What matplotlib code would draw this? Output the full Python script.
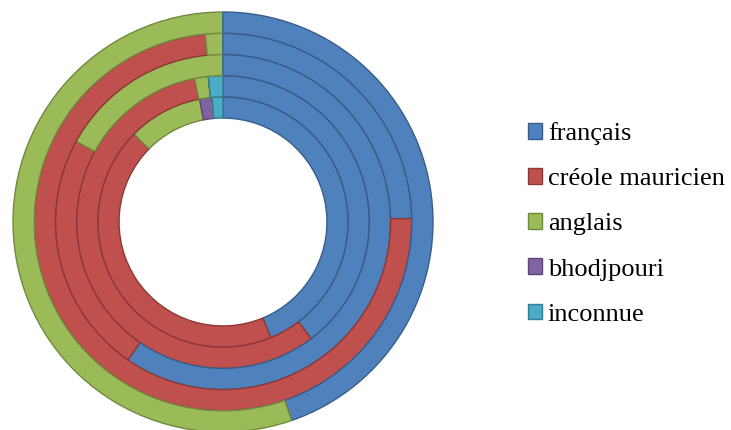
import matplotlib
matplotlib.use("Agg")
import matplotlib.pyplot as plt

# languages (legend order)
languages = ['français', 'créole mauricien', 'anglais', 'bhodjpouri', 'inconnue']

# share (%) of each language, one list per ring, innermost ring first
ring1 = [43.8, 43.7, 9.6, 1.6, 1.4]
ring2 = [39.7, 57.2, 1.5, 0.0, 1.6]
ring3 = [59.6, 23.4, 17.0, 0.0, 0.0]
ring4 = [24.7, 73.8, 1.5, 0.0, 0.0]
ring5 = [44.7, 0.0, 55.3, 0.0, 0.0]
rings = [ring1, ring2, ring3, ring4, ring5]

colors = ['#4F81BD', '#C0504D', '#9BBB59', '#8064A2', '#4BACC6']
edges = ['#385D8A', '#8C3836', '#71893F', '#5C4776', '#357D91']

fig = plt.figure(figsize=(7.31, 4.30), dpi=100)
# pie centre at (223, 222) px, outer radius 210 px
ax = fig.add_axes([13 / 731, -2 / 430, 420 / 731, 420 / 430])
ax.set_xlim(-1, 1)
ax.set_ylim(-1, 1)
ax.set_aspect('equal')
ax.axis('off')

hole = 0.495
w = (1 - hole) / len(rings)

first = None
for i, vals in enumerate(rings):
    wedges, _ = ax.pie(vals, radius=hole + (i + 1) * w, startangle=90,
                       counterclock=False, colors=colors,
                       wedgeprops=dict(width=w, linewidth=1.0),
                       frame=False)
    for wd, ec in zip(wedges, edges):
        wd.set_edgecolor(ec)
    if first is None:
        first = wedges
ax.set_xlim(-1, 1)
ax.set_ylim(-1, 1)

leg = fig.legend(first, languages, loc='center left',
                 bbox_to_anchor=(528 / 731, 206 / 430), frameon=False,
                 prop={'family': 'Liberation Serif', 'size': 19},
                 handlelength=0.53, handleheight=0.53, handletextpad=0.22,
                 labelspacing=0.87, borderpad=0, borderaxespad=0)

fig.savefig('out.png', dpi=100)
